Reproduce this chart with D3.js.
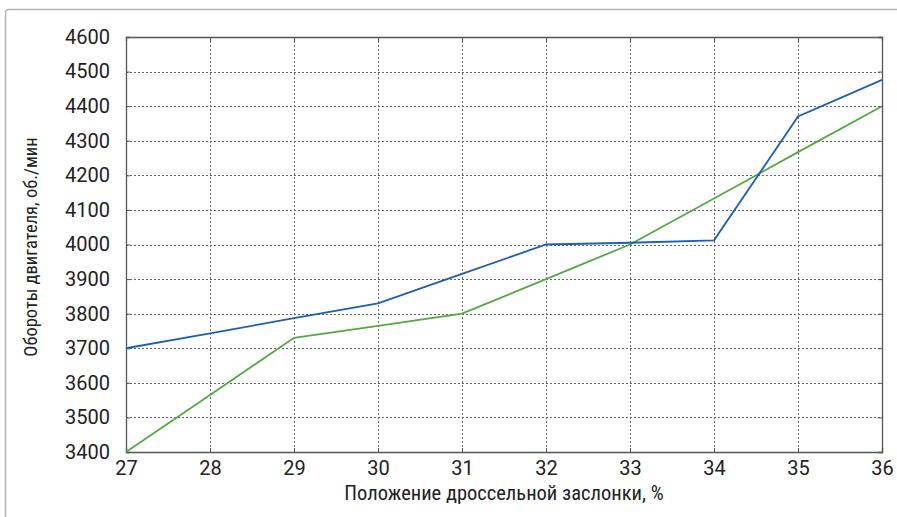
<!DOCTYPE html>
<html><head><meta charset="utf-8">
<script src="https://cdn.jsdelivr.net/npm/d3@7"></script>
<style>
html,body{margin:0;padding:0;background:#fff;}
svg{display:block;}
text{font-family:"Liberation Sans Narrow","Arial Narrow","Roboto Condensed",Roboto,sans-serif;fill:#222;}
</style></head><body>
<svg id="c" width="897" height="517"></svg>
<script>
const throttle = [27, 28, 29, 30, 31, 32, 33, 34, 35, 36];
const seriesBlue = [3700, 3743, 3787, 3830, 3915, 4000, 4005, 4012, 4370, 4476];
const seriesGreen = [3400, 3565, 3730, 3765, 3800, 3900, 4000, 4133, 4267, 4400];
const yTicks = [3400, 3500, 3600, 3700, 3800, 3900, 4000, 4100, 4200, 4300, 4400, 4500, 4600];
const xTicks = [27, 28, 29, 30, 31, 32, 33, 34, 35, 36];
const xTitle = "Положение дроссельной заслонки, %";
const yTitle = "Обороты двигателя, об./мин";

const svg = d3.select("#c");
const L = 126, R = 882, T = 37, B = 452;
const x = d3.scaleLinear().domain([27, 36]).range([L, R]);
const y = d3.scaleLinear().domain([3400, 4600]).range([B, T]);

// outer frame
svg.append("path")
  .attr("d", `M5.5,517 L5.5,13 Q5.5,9.5 9,9.5 L897,9.5`)
  .attr("fill", "none").attr("stroke", "#b5b5b5").attr("stroke-width", 1.5);

// grid
const g = svg.append("g");
g.selectAll(".gx").data(xTicks.slice(1, -1)).join("line")
  .attr("x1", d => Math.round(x(d)) + 0.5).attr("x2", d => Math.round(x(d)) + 0.5)
  .attr("y1", T).attr("y2", B)
  .attr("stroke", "#666").attr("stroke-width", 1).attr("stroke-dasharray", "2,2");
g.selectAll(".gy").data(yTicks.slice(1, -1)).join("line")
  .attr("x1", L).attr("x2", R)
  .attr("y1", d => Math.round(y(d)) + 0.5).attr("y2", d => Math.round(y(d)) + 0.5)
  .attr("stroke", "#666").attr("stroke-width", 1).attr("stroke-dasharray", "2,2");

// axes (ticks inward)
const axL = d3.axisLeft(y).tickValues(yTicks).tickSize(-4).tickPadding(16).tickFormat(d3.format("d"));
const axR = d3.axisRight(y).tickValues(yTicks).tickSize(-4).tickFormat("");
const axB = d3.axisBottom(x).tickValues(xTicks).tickSize(-4).tickPadding(9).tickFormat(d3.format("d"));
const axT = d3.axisTop(x).tickValues(xTicks).tickSize(-4).tickFormat("");

function style(sel) {
  sel.select(".domain").attr("stroke", "#555").attr("stroke-width", 1.3);
  sel.selectAll(".tick line").attr("stroke", "#555");
  sel.selectAll("text").attr("font-size", 20).attr("fill", "#222")
    .style("font-family", '"Liberation Sans Narrow","Arial Narrow",Roboto,sans-serif');
}
svg.append("g").attr("transform", `translate(${L},0)`).call(axL).call(style);
svg.append("g").attr("transform", `translate(${R},0)`).call(axR).call(style);
svg.append("g").attr("transform", `translate(0,${B})`).call(axB).call(style);
svg.append("g").attr("transform", `translate(0,${T})`).call(axT).call(style);

// lines
const line = d3.line().x((d, i) => x(throttle[i])).y(d => y(d));
svg.append("path").datum(seriesGreen).attr("d", line)
  .attr("fill", "none").attr("stroke", "#56a845").attr("stroke-width", 1.8);
svg.append("path").datum(seriesBlue).attr("d", line)
  .attr("fill", "none").attr("stroke", "#1d5fb0").attr("stroke-width", 1.8);

// titles
svg.append("text").attr("x", 504).attr("y", 500).attr("text-anchor", "middle")
  .attr("font-size", 20.5).text(xTitle);
svg.append("text").attr("transform", "translate(37,247) rotate(-90)").attr("text-anchor", "middle")
  .attr("font-size", 18.5).text(yTitle);
</script>
</body></html>
